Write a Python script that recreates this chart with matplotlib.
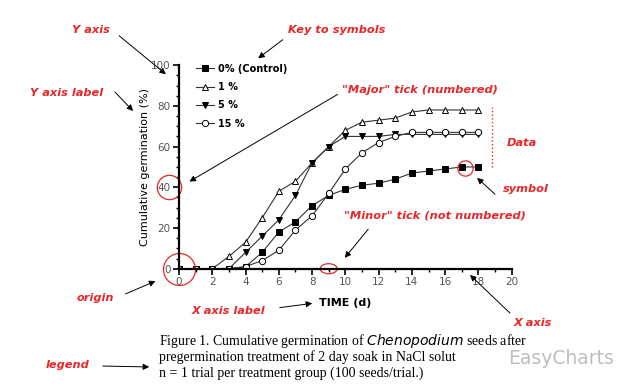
import numpy as np
import matplotlib.pyplot as plt
from matplotlib.ticker import MultipleLocator
from matplotlib.patches import Ellipse

days = list(range(0, 19))
control = [0, 0, 0, 0, 1, 8, 18, 23, 31, 36, 39, 41, 42, 44, 47, 48, 49, 50, 50]
nacl_1 = [0, 0, 0, 6, 13, 25, 38, 43, 52, 60, 68, 72, 73, 74, 77, 78, 78, 78, 78]
nacl_5 = [0, 0, 0, 0, 8, 16, 24, 36, 52, 60, 65, 65, 65, 66, 66, 66, 66, 66, 66]
nacl_15 = [0, 0, 0, 0, 1, 4, 9, 19, 26, 37, 49, 57, 62, 65, 67, 67, 67, 67, 67]
labels = ['0% (Control)', '1 %', '5 %', '15 %']

W, H = 640, 391
RED = '#e8262a'


def fp(x, y):
    # pixel position (from top-left) -> figure fraction
    return x / W, 1 - y / H


fig = plt.figure(figsize=(6.4, 3.91), dpi=100)
ax = fig.add_axes([179 / W, 1 - 268.7 / H, (511.7 - 179) / W, (268.7 - 65.2) / H])

style = dict(color='#333333', lw=0.8, ms=4.5, mec='black', mew=0.7)
ax.plot(days, control, marker='s', mfc='black', label=labels[0], **style)
ax.plot(days, nacl_1, marker='^', mfc='white', label=labels[1], **style)
ax.plot(days, nacl_5, marker='v', mfc='black', label=labels[2], **style)
ax.plot(days, nacl_15, marker='o', mfc='white', label=labels[3], **style)

ax.set_xlim(0, 20)
ax.set_ylim(0, 100)
ax.xaxis.set_major_locator(MultipleLocator(2))
ax.xaxis.set_minor_locator(MultipleLocator(1))
ax.yaxis.set_major_locator(MultipleLocator(20))
ax.yaxis.set_minor_locator(MultipleLocator(5))
for s in ['top', 'right']:
    ax.spines[s].set_visible(False)
for s in ['left', 'bottom']:
    ax.spines[s].set_linewidth(1.6)
ax.tick_params(which='major', length=4, width=1.2, labelsize=7.5, labelcolor='#555555', pad=2)
ax.tick_params(which='minor', length=2.5, width=1)
ax.set_xlabel('TIME (d)', fontsize=8, fontweight='bold', labelpad=8)
ax.set_ylabel('Cumulative germination (%)', fontsize=8, labelpad=1)

leg = ax.legend(loc='upper left', bbox_to_anchor=(0.025, 1.05), frameon=False,
                fontsize=7, handlelength=1.8, labelspacing=0.85, handletextpad=0.5)
for t in leg.get_texts():
    t.set_fontweight('bold')

# red circles marking parts of the chart
for x, y, ms in [(0, 0, 23), (-0.6, 40, 17.5), (17.2, 49.5, 11)]:
    ax.plot(x, y, 'o', ms=ms, mfc='none', mec=RED, mew=0.9, clip_on=False)
ax.add_patch(Ellipse((9, 0), 17 / 16.64, 10 / 2.035, fill=False, ec=RED, lw=0.9, clip_on=False))
ax.plot([18.8, 18.8], [50, 79.5], ls=':', color=RED, lw=1, clip_on=False)

# annotation texts
note = dict(color=RED, fontsize=8.2, fontweight='bold', style='italic', ha='center', va='center')
arrow = dict(arrowstyle='-|>', color='black', lw=0.7, mutation_scale=9)
fig.text(*fp(91, 30), 'Y axis', **note)
fig.text(*fp(337, 30), 'Key to symbols', **note)
fig.text(*fp(67, 93), 'Y axis label', **note)
fig.text(*fp(420, 90), '"Major" tick (numbered)', **note)
fig.text(*fp(522, 143), 'Data', **note)
fig.text(*fp(526, 189), 'symbol', **note)
fig.text(*fp(435, 216), '"Minor" tick (not numbered)', **note)
fig.text(*fp(95, 298), 'origin', **note)
fig.text(*fp(228, 311), 'X axis label', **note)
fig.text(*fp(533, 323), 'X axis', **note)
fig.text(*fp(68, 365), 'legend', **note)

fc = 'figure fraction'
links = [
    ((117, 34), (168, 76)),
    ((285, 38), (256, 60)),
    ((113, 90), (135, 113)),
    ((340, 93), (187, 183)),
    ((497, 196), (475, 176)),
    ((370, 227), (343, 260)),
    ((123, 295), (158, 280)),
    ((277, 308), (315, 303)),
    ((512, 315), (468, 273)),
    ((100, 366), (152, 367)),
]
for start, end in links:
    ax.annotate('', xy=fp(*end), xycoords=fc, xytext=fp(*start), textcoords=fc,
                arrowprops=arrow)

# caption
cap = dict(fontsize=10, family='Liberation Serif', ha='left', va='center')
fig.text(*fp(159, 341), 'Figure 1. Cumulative germination of $\\it{Chenopodium}$ seeds after', **cap)
fig.text(*fp(159, 357), 'pregermination treatment of 2 day soak in NaCl solut', **cap)
fig.text(*fp(159, 373), 'n = 1 trial per treatment group (100 seeds/trial.)', **cap)
fig.text(*fp(508, 358), 'EasyCharts', fontsize=13.5, color='#bdbdbd', ha='left', va='center')

fig.savefig('out.png', dpi=100)
